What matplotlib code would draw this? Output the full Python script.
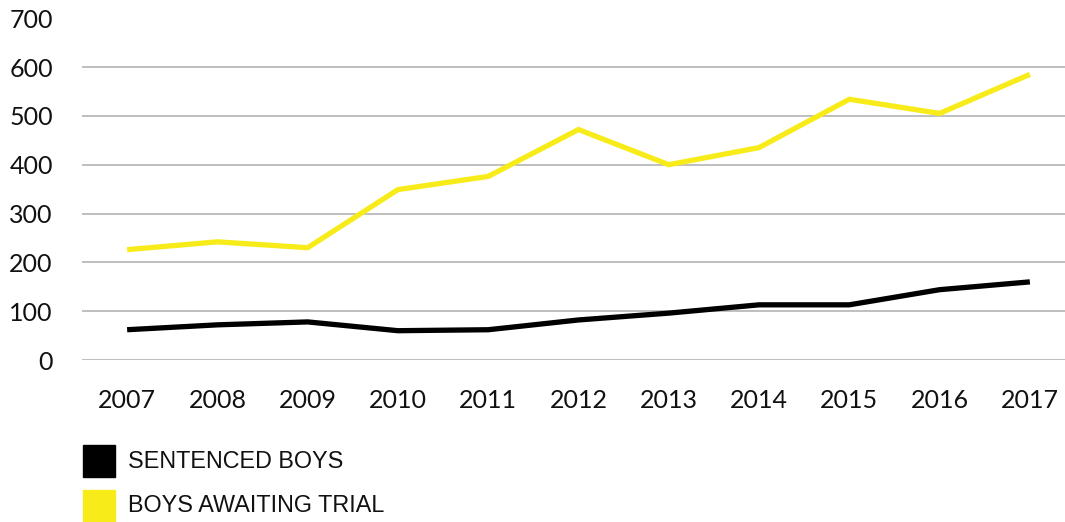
import matplotlib.pyplot as plt
from matplotlib.patches import Rectangle

years = ['2007', '2008', '2009', '2010', '2011', '2012', '2013', '2014', '2015', '2016', '2017']
sentenced = [62, 72, 78, 60, 62, 82, 96, 113, 113, 144, 160]
awaiting = [226, 242, 230, 349, 376, 472, 400, 435, 534, 505, 585]
series_names = ['SENTENCED BOYS', 'BOYS AWAITING TRIAL']
colors = ['#000000', '#F7EC1A']

W, H = 1065, 522
fig = plt.figure(figsize=(W / 100, H / 100), dpi=100)
ax = fig.add_axes([82 / W, (H - 360) / H, (1075 - 82) / W, (360 - 18.2) / H])

x = range(len(years))
ax.plot(x, awaiting, color=colors[1], linewidth=3.8, solid_capstyle='butt', zorder=3)
ax.plot(x, sentenced, color=colors[0], linewidth=3.8, solid_capstyle='butt', zorder=3)

ax.set_xlim(-0.5, len(years) - 0.5)
ax.set_ylim(0, 700)
ax.set_yticks(range(0, 701, 100))
ax.set_xticks(list(x))
ax.set_xticklabels(years)

for yv in range(0, 601, 100):
    ax.axhline(yv, color='#BFBFBF', linewidth=1.4, zorder=1)

for s in ax.spines.values():
    s.set_visible(False)
ax.tick_params(length=0, labelsize=18, colors='#111111')
ax.tick_params(axis='y', pad=21)
ax.tick_params(axis='x', pad=21)
for lab in ax.get_xticklabels() + ax.get_yticklabels():
    lab.set_fontfamily('Lato')

# legend
legend_y = [461, 506]
for name, c, yc in zip(series_names, colors, legend_y):
    fig.patches.append(Rectangle((83 / W, (H - yc - 16) / H), 32 / W, 32 / H,
                                 transform=fig.transFigure, color=c))
    fig.text(128 / W, (H - yc) / H, name, fontsize=16.8, va='center', ha='left',
             family='Liberation Sans', color='#111111')

fig.savefig('out.png', dpi=100)
